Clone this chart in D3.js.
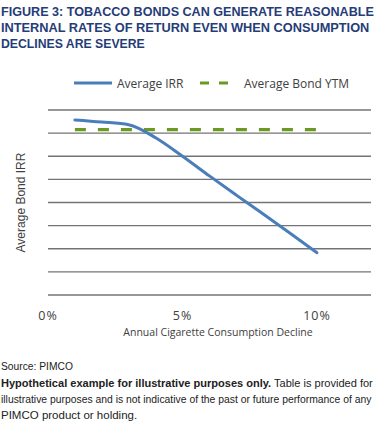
<!DOCTYPE html>
<html>
<head>
<meta charset="utf-8">
<script src="https://cdn.jsdelivr.net/npm/d3@7"></script>
<style>
  html, body { margin: 0; padding: 0; background: #fff; }
  svg { display: block; }
</style>
</head>
<body>
<svg id="chart"></svg>
<script>
// data (y axis is unlabelled, units are gridline steps)
const declines = [1, 2, 3, 4, 5, 6, 7, 8, 9, 10];
const avgIRR = [7.57, 7.48, 7.36, 6.8, 6.0, 5.15, 4.32, 3.5, 2.67, 1.83];
const avgBondYTM = [7.15, 7.15, 7.15, 7.15, 7.15, 7.15, 7.15, 7.15, 7.15, 7.15];
const xTicks = [0, 5, 10];
const yGrid = [0, 1, 2, 3, 4, 5, 6, 7, 8];

const titleLines = [
    "FIGURE 3: TOBACCO BONDS CAN GENERATE REASONABLE",
    "INTERNAL RATES OF RETURN EVEN WHEN CONSUMPTION",
    "DECLINES ARE SEVERE"
];
const titleWidths = [373, 369, 144];

const width = 380, height = 429;
const plot = { left: 48, right: 371, top: 110, bottom: 295 };

const svg = d3.select("#chart")
    .attr("width", width)
    .attr("height", height);

// squeeze a text horizontally to a given width (fonts here are wider than the original)
function fitWidth(sel, x, y, target) {
    const w = sel.node().getComputedTextLength();
    sel.attr("transform", `translate(${x},${y}) scale(${Math.min(1, target / w)},1)`);
}

// Title
svg.append("g")
    .selectAll("text")
    .data(titleLines)
    .join("text")
    .style("font-family", "'Liberation Sans', Arial, sans-serif")
    .style("font-size", "13.5px")
    .style("font-weight", "bold")
    .style("fill", "#253c78")
    .text(d => d)
    .each(function(d, i) { fitWidth(d3.select(this), 1, 15.5 + i * 16, titleWidths[i]); });

// x runs 0..10% across most of the plot; gridlines go a bit further right
const x = d3.scaleLinear().domain([0, 10]).range([plot.left, 317]);
const y = d3.scaleLinear().domain([0, 8]).range([plot.bottom, plot.top]);

// gridlines
svg.append("g")
    .attr("stroke", "#747474")
    .attr("stroke-width", 1.4)
    .selectAll("line")
    .data(yGrid)
    .join("line")
    .attr("x1", plot.left)
    .attr("x2", plot.right)
    .attr("y1", d => y(d))
    .attr("y2", d => y(d));

// x tick labels
svg.append("g")
    .selectAll("text")
    .data(xTicks)
    .join("text")
    .attr("x", d => x(d))
    .attr("y", 320)
    .attr("text-anchor", "middle")
    .style("font-family", "'Open Sans', sans-serif")
    .style("font-size", "12.5px")
    .style("letter-spacing", "1px")
    .style("fill", "#404040")
    .text(d => d + "%");

// axis titles
svg.append("text")
    .attr("x", 218)
    .attr("y", 336)
    .attr("text-anchor", "middle")
    .style("font-family", "'Open Sans', sans-serif")
    .style("font-size", "10.5px")
    .style("fill", "#404040")
    .text("Annual Cigarette Consumption Decline");

svg.append("text")
    .attr("transform", `translate(25, ${(plot.top + plot.bottom) / 2}) rotate(-90)`)
    .attr("text-anchor", "middle")
    .style("font-family", "'Liberation Sans', Arial, sans-serif")
    .style("font-size", "12px")
    .style("fill", "#404040")
    .text("Average Bond IRR");

// series
const line = d3.line()
    .x((d, i) => x(declines[i]))
    .y(d => y(d))
    .curve(d3.curveMonotoneX);

svg.append("path")
    .datum(avgBondYTM)
    .attr("d", line)
    .attr("fill", "none")
    .attr("stroke", "#6a9a22")
    .attr("stroke-width", 3.2)
    .attr("stroke-dasharray", "11,12");

svg.append("path")
    .datum(avgIRR)
    .attr("d", line)
    .attr("fill", "none")
    .attr("stroke", "#4a7ebb")
    .attr("stroke-width", 3)
    .attr("stroke-linecap", "round");

// legend
const legend = svg.append("g").attr("transform", "translate(0, 83)");
legend.append("line")
    .attr("x1", 74).attr("x2", 112)
    .attr("stroke", "#4a7ebb").attr("stroke-width", 3);
legend.append("line")
    .attr("x1", 200).attr("x2", 228)
    .attr("stroke", "#6a9a22").attr("stroke-width", 3.2)
    .attr("stroke-dasharray", "9,10");
legend.selectAll("text")
    .data([{ x: 117, t: "Average IRR" }, { x: 244, t: "Average Bond YTM" }])
    .join("text")
    .attr("x", d => d.x)
    .attr("y", 4.5)
    .style("font-family", "'Open Sans', sans-serif")
    .style("font-size", "12px")
    .style("fill", "#404040")
    .text(d => d.t);

// footer
const foot = svg.append("g")
    .style("font-family", "'Liberation Sans', Arial, sans-serif")
    .style("font-size", "11.5px")
    .style("fill", "#222");
fitWidth(foot.append("text").text("Source: PIMCO"), 1, 370, 72);
const l2 = foot.append("text");
l2.append("tspan").style("font-weight", "bold").text("Hypothetical example for illustrative purposes only.");
l2.append("tspan").text(" Table is provided for");
fitWidth(l2, 1, 387, 372);
fitWidth(foot.append("text")
    .text("illustrative purposes and is not indicative of the past or future performance of any"), 1, 403, 371);
fitWidth(foot.append("text").text("PIMCO product or holding."), 1, 419, 151);
</script>
</body>
</html>
